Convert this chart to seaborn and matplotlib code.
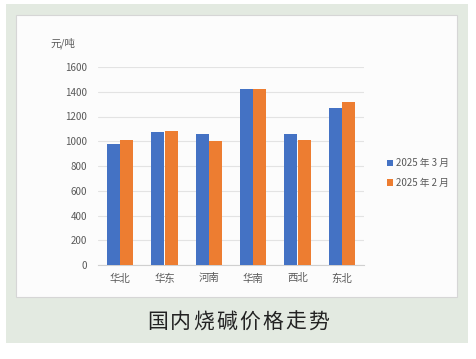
import numpy as np
import pandas as pd
import seaborn as sns
import matplotlib.pyplot as plt
from matplotlib.patches import Rectangle

regions = ['华北', '华东', '河南', '华南', '西北', '东北']
mar_2025 = [975, 1075, 1060, 1420, 1060, 1270]
feb_2025 = [1010, 1080, 1005, 1420, 1010, 1320]
series = ['2025 年 3 月', '2025 年 2 月']
colors = ['#4472C4', '#ED7D31']
title = '国内烧碱价格走势'

df = pd.DataFrame({
    'region': regions * 2,
    'price': mar_2025 + feb_2025,
    'month': [series[0]] * len(regions) + [series[1]] * len(regions),
})

sns.set_theme(style='white')
plt.rcParams['font.family'] = ['Noto Sans CJK SC', 'DejaVu Sans']

W, H = 476, 359
fig = plt.figure(figsize=(W / 100, H / 100), dpi=100)
fig.patch.set_facecolor('white')

# green panel and white chart box
fig.add_artist(Rectangle((6 / W, 1 - 343 / H), 462 / W, 339 / H, transform=fig.transFigure,
                         facecolor='#E3EAE1', edgecolor='none', zorder=-10))
fig.add_artist(Rectangle((16 / W, 1 - 297 / H), 441 / W, 282 / H, transform=fig.transFigure,
                         facecolor='#FCFCFC', edgecolor='#D6D6D6', linewidth=0.8, zorder=-9))

ax = fig.add_axes([98 / W, 1 - 265 / H, 266 / W, 198 / H])
ax.set_facecolor('none')
sns.barplot(data=df, x='region', y='price', hue='month', palette=colors,
            width=0.59, gap=0, saturation=1, linewidth=0, ax=ax, zorder=3)

ax.set_ylim(0, 1600)
ax.set_yticks(np.arange(0, 1601, 200))
ax.set_xlim(-0.5, len(regions) - 0.5)
ax.set_axisbelow(True)
ax.grid(axis='y', color='#E3E3E3', linewidth=0.8)
for s in ['top', 'right', 'left']:
    ax.spines[s].set_visible(False)
ax.spines['bottom'].set_color('#D0D0D0')
ax.spines['bottom'].set_linewidth(0.8)
ax.tick_params(axis='y', length=0, labelsize=7, colors='#595959', pad=8)
ax.tick_params(axis='x', length=0, labelsize=7.5, colors='#595959', pad=6)
ax.set_xlabel('')
ax.set_ylabel('')

fig.text(50 / W, 1 - 43 / H, '元/吨', fontsize=7.5, color='#595959', va='center', ha='left')

handles, labels = ax.get_legend_handles_labels()
ax.legend(handles, labels, loc='center left', bbox_to_anchor=(378 / W, 1 - 173 / H),
          bbox_transform=fig.transFigure, frameon=False, fontsize=7,
          handlelength=0.6, handleheight=0.6, handletextpad=0.3, labelspacing=1.0,
          labelcolor='#595959')

# title with wide letter spacing
step = 23
x0 = 238 - step * (len(title) - 1) / 2
for i, ch in enumerate(title):
    fig.text((x0 + i * step) / W, 1 - 322 / H, ch, fontsize=15, color='#222222',
             ha='center', va='center')

fig.savefig('out.png', dpi=100)
